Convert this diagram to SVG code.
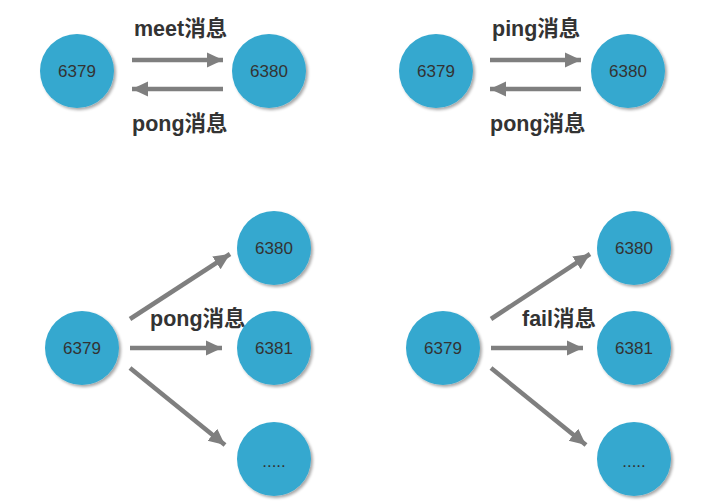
<svg xmlns="http://www.w3.org/2000/svg" width="720" height="503" viewBox="0 0 720 503">
<defs>
<filter id="sh" x="-30%" y="-30%" width="160%" height="160%">
<feGaussianBlur in="SourceAlpha" stdDeviation="1.5"/>
<feOffset dx="2" dy="2" result="b"/>
<feComponentTransfer><feFuncA type="linear" slope="0.35"/></feComponentTransfer>
<feMerge><feMergeNode/><feMergeNode in="SourceGraphic"/></feMerge>
</filter>
<marker id="ah" markerWidth="4" markerHeight="4" refX="3.6" refY="2" orient="auto" markerUnits="strokeWidth">
<path d="M0,0.3 L3.6,2 L0,3.7 Z" fill="#7f7f7f"/>
</marker>
<style>
.n circle{fill:#35a8cf;filter:url(#sh)}
.n text{font-family:"Liberation Sans",Arial,sans-serif;font-size:17px;fill:#333;text-anchor:middle;dominant-baseline:central}
.c line{stroke:#7f7f7f;stroke-width:4.5;marker-end:url(#ah)}
.l{font-family:"Liberation Sans","Noto Sans CJK SC",sans-serif;font-size:21.5px;font-weight:bold;fill:#333}
</style>
</defs>
<rect width="720" height="503" fill="#fff"/>
<g id="tl-6379" class="n"><circle cx="77" cy="71" r="37"/><text x="77" y="71">6379</text></g>
<g id="tl-6380" class="n"><circle cx="269" cy="71" r="37"/><text x="269" y="71">6380</text></g>
<g id="tr-6379" class="n"><circle cx="436" cy="71" r="37"/><text x="436" y="71">6379</text></g>
<g id="tr-6380" class="n"><circle cx="628" cy="71" r="37"/><text x="628" y="71">6380</text></g>
<g id="bl-6379" class="n"><circle cx="82" cy="348" r="37"/><text x="82" y="348">6379</text></g>
<g id="bl-6380" class="n"><circle cx="274" cy="248" r="37"/><text x="274" y="248">6380</text></g>
<g id="bl-6381" class="n"><circle cx="274" cy="348" r="37"/><text x="274" y="348">6381</text></g>
<g id="bl-more" class="n"><circle cx="274" cy="459" r="37"/><text x="274" y="461">.....</text></g>
<g id="br-6379" class="n"><circle cx="443" cy="348" r="37"/><text x="443" y="348">6379</text></g>
<g id="br-6380" class="n"><circle cx="634" cy="248" r="37"/><text x="634" y="248">6380</text></g>
<g id="br-6381" class="n"><circle cx="634" cy="348" r="37"/><text x="634" y="348">6381</text></g>
<g id="br-more" class="n"><circle cx="634" cy="459" r="37"/><text x="634" y="461">.....</text></g>
<g id="connectors" class="c">
<line x1="132" y1="60" x2="223" y2="60"/>
<line x1="223" y1="89" x2="132" y2="89"/>
<line x1="490" y1="60" x2="581" y2="60"/>
<line x1="581" y1="89" x2="490" y2="89"/>
<line x1="130" y1="319" x2="230" y2="254"/>
<line x1="130" y1="348" x2="222" y2="348"/>
<line x1="130" y1="368" x2="225" y2="445"/>
<line x1="491" y1="319" x2="590" y2="254"/>
<line x1="491" y1="348" x2="583" y2="348"/>
<line x1="491" y1="368" x2="586" y2="445"/>
</g>
<g id="labels">
<text class="l" x="134" y="36">meet消息</text>
<text class="l" x="132" y="131">pong消息</text>
<text class="l" x="492" y="36">ping消息</text>
<text class="l" x="490" y="131">pong消息</text>
<text class="l" x="150" y="326">pong消息</text>
<text class="l" x="522" y="326">fail消息</text>
</g>
</svg>
